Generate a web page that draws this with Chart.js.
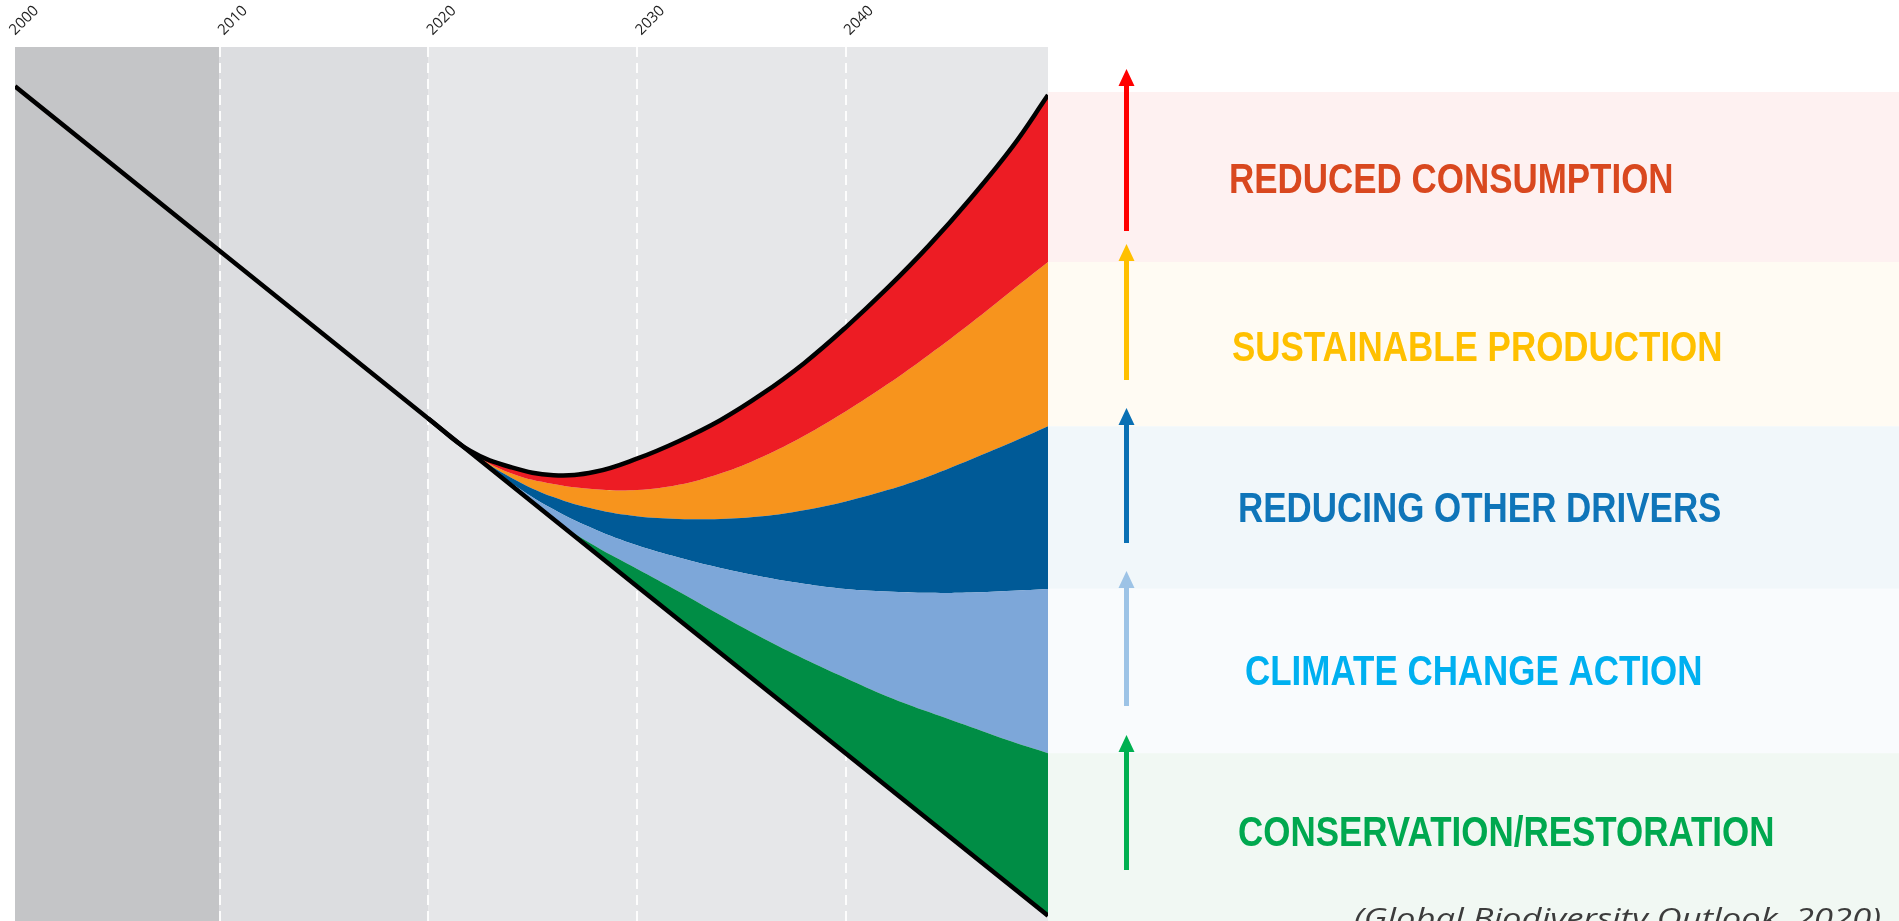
<!DOCTYPE html>
<html>
<head>
<meta charset="utf-8">
<script src="https://cdn.jsdelivr.net/npm/chart.js@4.4.1/dist/chart.umd.min.js"></script>
<style>
  html, body { margin: 0; padding: 0; background: #fff; overflow: hidden; }
  #wrap { width: 1899px; height: 921px; }
</style>
</head>
<body>
<div id="wrap"><canvas id="outlook" width="1899" height="921"></canvas></div>
<script>
// x axis
const yearTicks = [2000, 2010, 2020, 2030, 2040];
const zoneEdges = [2000, 2010, 2020, 2050];

// business as usual: straight decline
const baseYears = [2000.2, 2010, 2020, 2030, 2040, 2049.7];
const businessAsUsual = [95.5, 76.7, 57.5, 38.3, 19.2, 0.6];

// cumulative pathways after 2020
const pathYears = [2020, 2022, 2024, 2026, 2028, 2030, 2032, 2034, 2036, 2038, 2040, 2042, 2044, 2046, 2048, 2049.7];
const conservation = [57.5, 53.7, 49.9, 46.0, 42.9, 40.3, 37.7, 35.0, 32.4, 30.0, 27.8, 25.7, 23.9, 22.2, 20.5, 19.2];
const climateAction = [57.5, 53.7, 50.1, 47.1, 44.8, 43.0, 41.6, 40.4, 39.4, 38.6, 38.0, 37.7, 37.55, 37.6, 37.8, 38.0];
const otherDrivers = [57.5, 53.7, 50.7, 48.5, 47.1, 46.3, 46.0, 46.0, 46.3, 47.0, 48.0, 49.3, 50.9, 52.8, 54.8, 56.6];
const production = [57.5, 53.7, 51.2, 50.0, 49.4, 49.3, 49.9, 51.2, 53.1, 55.5, 58.3, 61.4, 64.8, 68.4, 72.2, 75.4];
const consumption = [57.5, 53.8, 51.9, 51.0, 51.4, 52.9, 54.9, 57.3, 60.3, 63.8, 67.9, 72.4, 77.3, 82.7, 88.6, 94.5];

// right hand panel, top to bottom
const actions = ["REDUCED CONSUMPTION", "SUSTAINABLE PRODUCTION", "REDUCING OTHER DRIVERS", "CLIMATE CHANGE ACTION", "CONSERVATION/RESTORATION"];
const source = "(Global Biodiversity Outlook, 2020)";

// styles
const zoneColors = ['#c4c5c7', '#dcdde0', '#e6e7e9'];
const fillColors = ['#008d45', '#7da7d9', '#005a97', '#f7941d', '#ed1c24'];
const bandColors = ['#fef1f1', '#fffbf3', '#f1f7fa', '#f9fbfd', '#f1f8f3'];
const textColors = ['#d9481f', '#ffc000', '#0f75b9', '#00b0f0', '#00a84f'];
const arrowColors = ['#ff0000', '#ffc000', '#0a70b4', '#9dc3e6', '#00b050'];
const arrowSpan = [[69, 231], [244, 380], [408, 543], [571, 706], [735, 870]];
const labelX = [1229, 1232, 1238, 1245, 1238];
const labelY = [178, 346, 507, 670, 831];

const toPoints = (xs, ys) => xs.map((x, i) => ({ x: x, y: ys[i] }));

function band(label, data, color) {
    return {
        label: label,
        data: toPoints(pathYears, data),
        borderWidth: 0,
        borderColor: 'transparent',
        backgroundColor: color,
        fill: '-1',
        pointRadius: 0,
        tension: 0.4,
        order: 0
    };
}

const panel = {
    id: 'panel',
    beforeDraw(chart) {
        const { ctx, chartArea: a, scales: { x } } = chart;
        ctx.save();
        for (let i = 0; i < zoneColors.length; i++) {
            const x0 = Math.max(x.getPixelForValue(zoneEdges[i]), a.left);
            const x1 = Math.min(x.getPixelForValue(zoneEdges[i + 1]), a.right);
            ctx.fillStyle = zoneColors[i];
            ctx.fillRect(x0, a.top, x1 - x0, a.bottom - a.top);
        }
        ctx.restore();
    },
    afterDraw(chart) {
        const { ctx, chartArea: a, scales: { y } } = chart;
        const last = s => s[s.length - 1];
        const edges = [consumption, production, otherDrivers, climateAction, conservation]
            .map(s => y.getPixelForValue(last(s)));
        edges[0] -= 3;
        edges.push(chart.height);
        ctx.save();

        // bands
        for (let i = 0; i < 5; i++) {
            ctx.fillStyle = bandColors[i];
            ctx.fillRect(a.right, edges[i], chart.width - a.right, edges[i + 1] - edges[i]);
        }

        // arrows
        const ax = 1126.5;
        for (let i = 0; i < 5; i++) {
            const [t, b] = arrowSpan[i];
            ctx.fillStyle = arrowColors[i];
            ctx.fillRect(ax - 2.5, t + 14, 5, b - t - 14);
            ctx.beginPath();
            ctx.moveTo(ax, t);
            ctx.lineTo(ax + 8, t + 17);
            ctx.lineTo(ax - 8, t + 17);
            ctx.closePath();
            ctx.fill();
        }

        // action labels, condensed bold
        ctx.font = 'bold 42px "Liberation Sans", Arial, sans-serif';
        ctx.textBaseline = 'alphabetic';
        ctx.textAlign = 'left';
        for (let i = 0; i < 5; i++) {
            ctx.save();
            ctx.translate(labelX[i], labelY[i] + 15);
            ctx.scale(0.832, 1);
            ctx.fillStyle = textColors[i];
            ctx.fillText(actions[i], 0, 0);
            ctx.restore();
        }

        // source note, cut by the bottom edge
        ctx.font = 'italic 28px "Open Sans", "Liberation Sans", sans-serif';
        const w = ctx.measureText(source).width;
        ctx.save();
        ctx.translate(1354, 928);
        ctx.scale(527 / w, 1);
        ctx.fillStyle = '#3c3c3c';
        ctx.fillText(source, 0, 0);
        ctx.restore();

        ctx.restore();
    }
};

new Chart(document.getElementById('outlook').getContext('2d'), {
    type: 'line',
    data: {
        datasets: [
            {
                label: 'Business as usual',
                data: toPoints(baseYears, businessAsUsual),
                borderColor: '#000',
                borderWidth: 4.5,
                fill: false,
                pointRadius: 0,
                order: -1
            },
            band('Conservation/restoration', conservation, fillColors[0]),
            band('Climate change action', climateAction, fillColors[1]),
            band('Reducing other drivers', otherDrivers, fillColors[2]),
            band('Sustainable production', production, fillColors[3]),
            {
                label: 'Reduced consumption',
                data: toPoints(pathYears, consumption),
                borderColor: '#000',
                borderWidth: 4.5,
                backgroundColor: fillColors[4],
                fill: '-1',
                pointRadius: 0,
                tension: 0.4,
                order: -1
            }
        ]
    },
    options: {
        responsive: false,
        animation: false,
        events: [],
        layout: { padding: { left: 15, right: 851, top: 0, bottom: 0 } },
        plugins: { legend: { display: false }, tooltip: { enabled: false } },
        scales: {
            x: {
                type: 'linear',
                position: 'top',
                min: 2000.2,
                max: 2049.7,
                afterBuildTicks: s => { s.ticks = yearTicks.map(v => ({ value: v })); },
                afterFit: s => {
                    s.height = 47;
                    s.paddingLeft = 0;
                    s.paddingRight = 0;
                },
                border: { display: false, dash: [10, 6] },
                grid: {
                    drawTicks: false,
                    lineWidth: 2,
                    color: c => (c.tick && c.tick.value > 2000) ? 'rgba(255,255,255,0.9)' : 'transparent'
                },
                ticks: {
                    autoSkip: false,
                    minRotation: 45,
                    maxRotation: 45,
                    padding: 8,
                    labelOffset: 14,
                    color: '#222',
                    font: { family: '"Open Sans", sans-serif', size: 15 },
                    callback: v => String(v)
                }
            },
            y: { display: false, min: 0, max: 100 }
        }
    },
    plugins: [panel]
});
</script>
</body>
</html>
